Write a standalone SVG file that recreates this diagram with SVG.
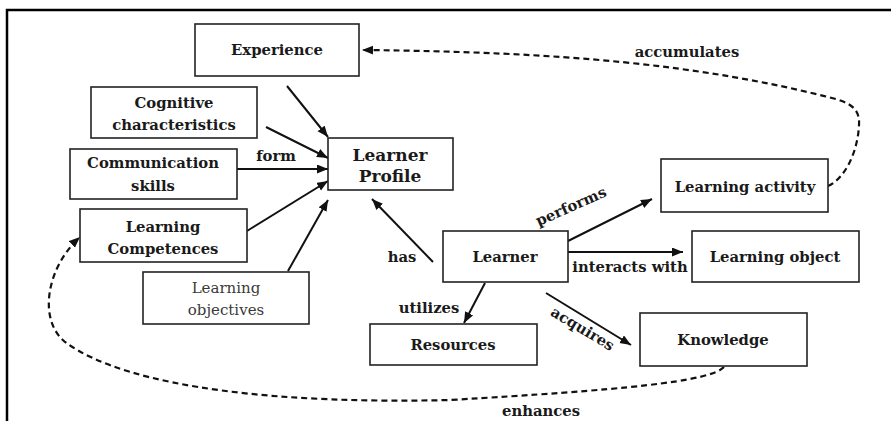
<svg xmlns="http://www.w3.org/2000/svg" width="891" height="421" viewBox="0 0 891 421">
<style>
.box{fill:#fff;stroke:#222;stroke-width:1.6}
.t{font-family:"DejaVu Serif","Liberation Serif",serif;font-weight:bold;font-size:14.8px;fill:#1a1a1a;text-anchor:middle}
.lp{font-size:17px}
.light{font-weight:normal;fill:#3a3a3a;font-size:15px}
.ln{fill:none;stroke:#111;stroke-width:2}
.dash{fill:none;stroke:#111;stroke-width:2.2;stroke-dasharray:6 4}
</style>
<defs>
<marker id="ah" markerUnits="userSpaceOnUse" markerWidth="12" markerHeight="10" refX="11" refY="4.5" orient="auto">
<path d="M0,0 L11,4.5 L0,9 z" fill="#111"/>
</marker>
</defs>
<rect width="891" height="421" fill="#fff"/>
<path d="M7,421 V10 H891" fill="none" stroke="#000" stroke-width="2.5"/>

<g id="connectors">
<line class="ln" x1="287" y1="86" x2="328" y2="137" marker-end="url(#ah)"/>
<line class="ln" x1="266" y1="127" x2="328" y2="158" marker-end="url(#ah)"/>
<line class="ln" x1="237" y1="169" x2="328" y2="169" marker-end="url(#ah)"/>
<line class="ln" x1="247" y1="231" x2="328" y2="181" marker-end="url(#ah)"/>
<line class="ln" x1="288" y1="271" x2="328" y2="200" marker-end="url(#ah)"/>
<line class="ln" x1="433" y1="262" x2="372" y2="199" marker-end="url(#ah)"/>
<line class="ln" x1="568" y1="241" x2="652" y2="199" marker-end="url(#ah)"/>
<line class="ln" x1="568" y1="252" x2="683" y2="252" marker-end="url(#ah)"/>
<line class="ln" x1="485" y1="283" x2="464" y2="323" marker-end="url(#ah)"/>
<line class="ln" x1="546" y1="293" x2="631" y2="345" marker-end="url(#ah)"/>
<path class="dash" d="M828,186 C846,178 858,150 859,125 C860,110 852,104 836,99 C700,64 560,52 362,50" marker-end="url(#ah)"/>
<path class="dash" d="M724,367 C710,382 620,390 450,400 C290,404 130,390 65,342 C38,320 46,268 80,237" marker-end="url(#ah)"/>
<text class="t" x="276" y="161">form</text>
<text class="t" x="402" y="262">has</text>
<text class="t" x="429" y="313">utilizes</text>
<text class="t" x="630" y="272">interacts with</text>
<text class="t" transform="translate(573,211) rotate(-24)">performs</text>
<text class="t" transform="translate(580,333) rotate(31)">acquires</text>
<text class="t" x="687" y="57">accumulates</text>
<text class="t" x="541" y="416">enhances</text>
</g>

<g id="experience"><rect class="box" x="195" y="24" width="164" height="52"/><text class="t" x="277" y="55">Experience</text></g>
<g id="cognitive"><rect class="box" x="91" y="87" width="166" height="51"/><text class="t" x="174" y="108">Cognitive</text><text class="t" x="174" y="130">characteristics</text></g>
<g id="communication"><rect class="box" x="70" y="149" width="167" height="50"/><text class="t" x="153" y="168">Communication</text><text class="t" x="153" y="191">skills</text></g>
<g id="learner-profile"><rect class="box" x="328" y="138" width="125" height="52"/><text class="t lp" x="390" y="161">Learner</text><text class="t lp" x="390" y="182">Profile</text></g>
<g id="learning-competences"><rect class="box" x="80" y="209" width="167" height="53"/><text class="t" x="163" y="232">Learning</text><text class="t" x="163" y="254">Competences</text></g>
<g id="learning-objectives"><rect class="box" x="143" y="272" width="166" height="52"/><text class="t light" x="226" y="293">Learning</text><text class="t light" x="226" y="315">objectives</text></g>
<g id="learner"><rect class="box" x="443" y="231" width="125" height="51"/><text class="t" x="505" y="262">Learner</text></g>
<g id="resources"><rect class="box" x="370" y="324" width="167" height="41"/><text class="t" x="453" y="350">Resources</text></g>
<g id="learning-activity"><rect class="box" x="661" y="159" width="167" height="53"/><text class="t" x="745" y="192">Learning activity</text></g>
<g id="learning-object"><rect class="box" x="692" y="231" width="167" height="51"/><text class="t" x="775" y="262">Learning object</text></g>
<g id="knowledge"><rect class="box" x="640" y="313" width="167" height="53"/><text class="t" x="723" y="345">Knowledge</text></g>
</svg>
